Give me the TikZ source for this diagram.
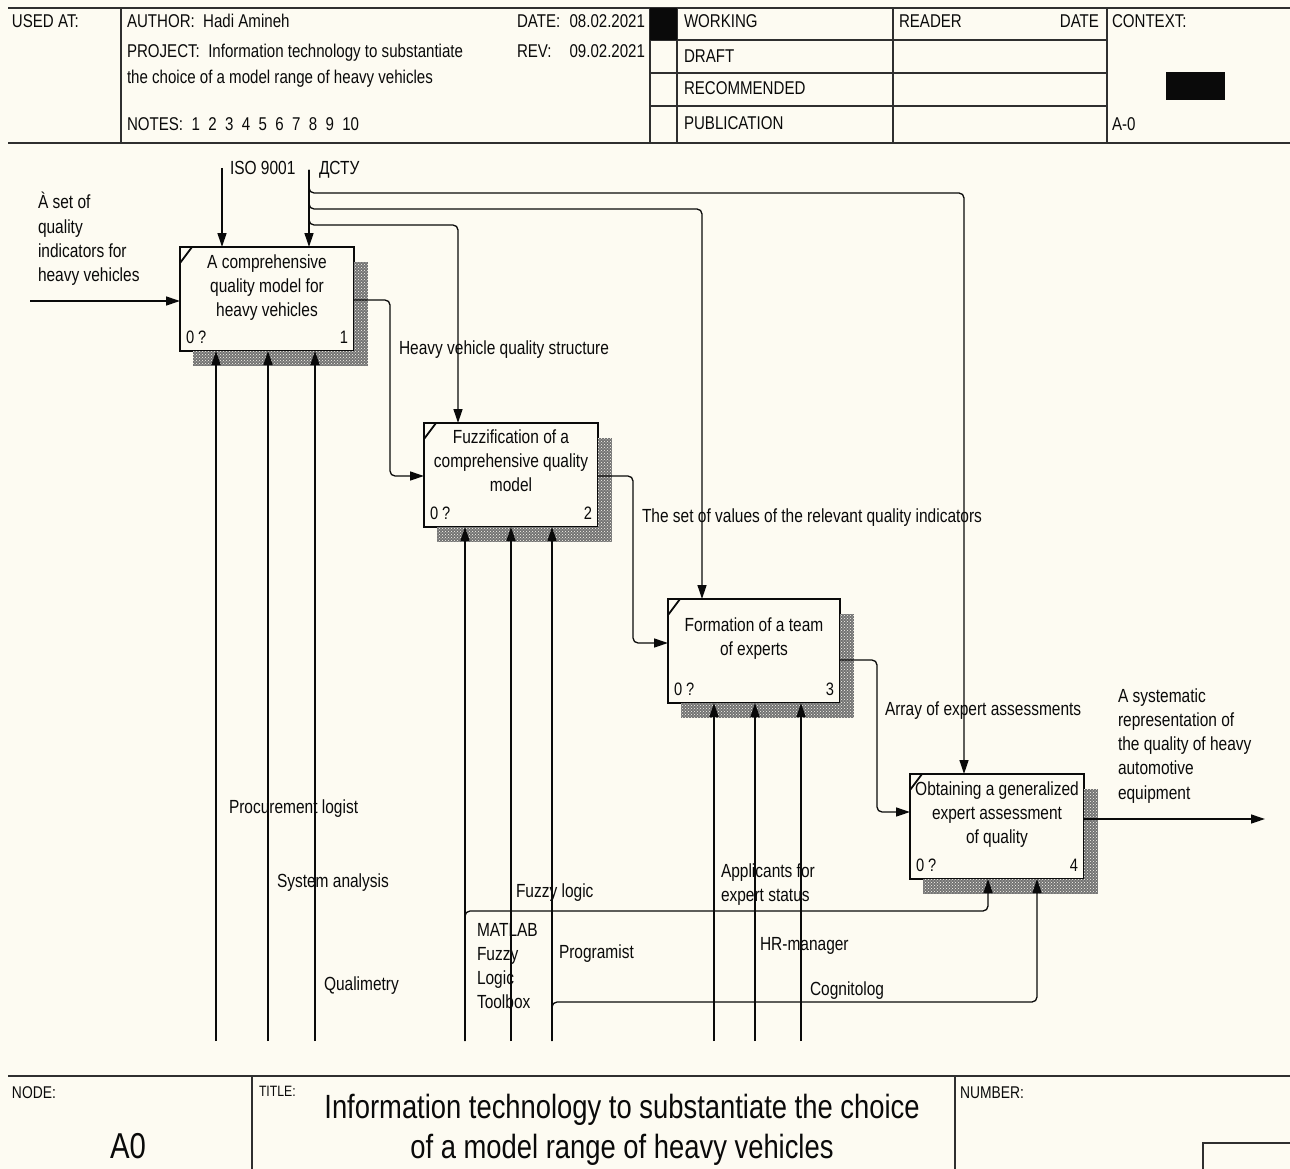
\documentclass[tikz,border=0pt]{standalone}
\usepackage{fontspec}
\setmainfont{Liberation Sans}[FakeStretch=0.815]
\usetikzlibrary{arrows.meta,patterns}
\definecolor{paper}{RGB}{253,251,242}
\definecolor{ink}{RGB}{10,10,10}
\tikzset{
  every node/.style={inner sep=0pt, outer sep=0pt, text=ink},
  lbl/.style={font=\fontsize{19}{24.3}\selectfont, anchor=base west},
  mlbl/.style={font=\fontsize{19}{24.3}\selectfont, anchor=north west, align=left},
  hdr/.style={font=\fontsize{18.5}{22}\selectfont, anchor=base west},
  hdrr/.style={font=\fontsize{18.5}{22}\selectfont, anchor=base east},
  small/.style={font=\fontsize{17}{20}\selectfont, anchor=base west},
  box/.style={draw=ink, line width=2.8pt, fill=paper},
  boxtxt/.style={font=\fontsize{19}{24}\selectfont, align=center, anchor=north},
  num/.style={font=\fontsize{18}{20}\selectfont},
  arr/.style={draw=ink, line width=1.3pt, -{Triangle[length=14pt,width=9pt]}},
  rulel/.style={draw=ink!85, line width=1.6pt},
  shadefill/.style={fill=black!55},
  shade/.style={pattern=crosshatch dots, pattern color=paper},
  corner/.style={draw=ink, line width=1.8pt},
}
\newcommand\boxshadow[1]{%
  \path[shadefill] ([yshift=-15pt]#1.north east) rectangle ([xshift=14pt,yshift=-15pt]#1.south east);
  \path[shadefill] ([xshift=13pt]#1.south west) rectangle ([yshift=-15pt]#1.south east);
  \path[shade] ([yshift=-15pt]#1.north east) rectangle ([xshift=14pt,yshift=-15pt]#1.south east);
  \path[shade] ([xshift=13pt]#1.south west) rectangle ([yshift=-15pt]#1.south east);}
\begin{document}
\begin{tikzpicture}[x=1pt,y=-1pt]
\useasboundingbox (0,0) rectangle (1290,1169);
\fill[paper] (0,0) rectangle (1290,1169);

% ---------------- header ----------------
\draw[rulel] (8,8) -- (1290,8);
\draw[rulel] (8,143) -- (1290,143);
\draw[rulel] (121,8) -- (121,143);
\draw[rulel] (650,8) -- (650,143);
\draw[rulel] (677,8) -- (677,143);
\draw[rulel] (893,8) -- (893,143);
\draw[rulel] (1107,8) -- (1107,143);
\draw[rulel] (650,40) -- (1107,40);
\draw[rulel] (650,73) -- (1107,73);
\draw[rulel] (650,106) -- (1107,106);
\fill[ink] (650,8) rectangle (677,40);
\fill[ink] (1166,72) rectangle (1225,100);

\node[hdr] (usedat) at (12,28) {USED AT:};
\node[hdr] (author) at (127,28) {AUTHOR:\ \ Hadi Amineh};
\node[hdr] (project) at (127,58) {PROJECT:\ \ Information technology to substantiate};
\node[hdr] (project2) at (127,84) {the choice of a model range of heavy vehicles};
\node[hdr] (notes) at (127,131) {NOTES:\ \ 1\ \ 2\ \ 3\ \ 4\ \ 5\ \ 6\ \ 7\ \ 8\ \ 9\ \ 10};
\node[hdr] (datel) at (517,28) {DATE:};
\node[hdrr] (datev) at (645,28) {08.02.2021};
\node[hdr] (revl) at (517,58) {REV:};
\node[hdrr] (revv) at (645,58) {09.02.2021};
\node[hdr] (working) at (684,28) {WORKING};
\node[hdr] (draft) at (684,63) {DRAFT};
\node[hdr] (recom) at (684,95) {RECOMMENDED};
\node[hdr] (publ) at (684,130) {PUBLICATION};
\node[hdr] (reader) at (899,28) {READER};
\node[hdrr] (rdate) at (1099,28) {DATE};
\node[hdr] (context) at (1112,28) {CONTEXT:};
\node[hdr] (ctxa) at (1112,131) {A-0};

% ---------------- footer ----------------
\draw[rulel] (8,1076) -- (1290,1076);
\draw[rulel] (252,1076) -- (252,1169);
\draw[rulel] (955,1076) -- (955,1169);
\draw[rulel] (1203,1169) -- (1203,1143) -- (1290,1143);
\node[small] (nodel) at (12,1098) {NODE:};
\node[font=\fontsize{15}{18}\selectfont, anchor=base west] (titlel) at (259,1096) {TITLE:};
\node[small] (numl) at (960,1098) {NUMBER:};
\node[font=\fontsize{36}{40}\selectfont, anchor=base] (a0) at (128,1158) {A0};
\node[font=\fontsize{33.6}{40}\selectfont, align=center, anchor=north] (title) at (622,1088)
  {\rule{0pt}{30pt}Information technology to substantiate the choice\\of a model range of heavy vehicles};

% ---------------- boxes ----------------
\node[box, minimum width=174pt, minimum height=104pt] (b1) at (267,299) {};
\node[box, minimum width=174pt, minimum height=104pt] (b2) at (511,475) {};
\node[box, minimum width=172pt, minimum height=104pt] (b3) at (754,651) {};
\node[box, minimum width=174pt, minimum height=105pt] (b4) at (997,826.5) {};
\boxshadow{b1}\boxshadow{b2}\boxshadow{b3}\boxshadow{b4}
\foreach \b in {b1,b2,b3,b4}{
  \draw[corner] ([yshift=-16pt]\b.north west) -- ([xshift=12pt]\b.north west);
}
\node[boxtxt] (b1t) at ([yshift=-3pt]b1.north) {\rule{0pt}{18pt}A comprehensive\\quality model for\\heavy vehicles};
\node[boxtxt] (b2t) at ([yshift=-2pt]b2.north) {\rule{0pt}{18pt}Fuzzification of a\\comprehensive quality\\model};
\node[boxtxt] (b3t) at ([yshift=-14pt]b3.north) {\rule{0pt}{18pt}Formation of a team\\of experts};
\node[boxtxt] (b4t) at ([yshift=-3pt]b4.north) {\rule{0pt}{18pt}Obtaining a generalized\\expert assessment\\of quality};
\foreach \b/\n in {b1/1,b2/2,b3/3,b4/4}{
  \node[num, anchor=base west] (\b z) at ([xshift=6pt,yshift=8pt]\b.south west) {0 ?};
  \node[num, anchor=base east] (\b n) at ([xshift=-6pt,yshift=8pt]\b.south east) {\n};
}

% ---------------- inputs / outputs ----------------
\coordinate (in1) at (30,301);
\draw[arr] (in1) -- (in1 -| b1.west);
\draw[arr, rounded corners=5pt] (b1.east |- 0,300) -| (390,476) -- (b2.west |- 0,476);
\draw[arr, rounded corners=5pt] (b2.east |- 0,476) -| (633,643) -- (b3.west |- 0,643);
\draw[arr, rounded corners=5pt] (b3.east |- 0,660) -| (877,812) -- (b4.west |- 0,812);
\coordinate (out4) at (1265,819);
\draw[arr] (b4.east |- out4) -- (out4);

% ---------------- controls ----------------
\coordinate (iso) at (222,168);
\draw[arr] (iso) -- (iso |- b1.north);
\coordinate (dstu) at (309,170);
\draw[arr] (dstu) -- (dstu |- b1.north);
\draw[arr, rounded corners=5pt] (dstu) |- (964,193) -- (964,0 |- b4.north);
\draw[arr, rounded corners=5pt] (dstu) |- (702,209) -- (702,0 |- b3.north);
\draw[arr, rounded corners=5pt] (dstu) |- (458,225) -- (458,0 |- b2.north);

% ---------------- mechanisms ----------------
\foreach \x/\i in {216/11,268/12,315/13}{
  \coordinate (m\i) at (\x,1041);
  \draw[arr] (m\i) -- (m\i |- b1.south);
}
\foreach \x/\i in {465/21,511/22,552/23}{
  \coordinate (m\i) at (\x,1041);
  \draw[arr] (m\i) -- (m\i |- b2.south);
}
\foreach \x/\i in {714/31,755/32,801/33}{
  \coordinate (m\i) at (\x,1041);
  \draw[arr] (m\i) -- (m\i |- b3.south);
}
\draw[arr, rounded corners=5pt] (m21) |- (988,911) -- (988,0 |- b4.south);
\draw[arr, rounded corners=5pt] (m23) |- (1037,1002) -- (1037,0 |- b4.south);

% ---------------- labels ----------------
\node[mlbl] (lin) at (38,191) {\rule{0pt}{18pt}À set of\\quality\\indicators for\\heavy vehicles};
\node[lbl] (liso) at (230,175) {ISO 9001};
\node[lbl] (ldstu) at (319,175) {ДСТУ};
\node[lbl] (lheavy) at (399,354) {Heavy vehicle quality structure};
\node[lbl] (lset) at (642,522) {The set of values of the relevant quality indicators};
\node[lbl] (larray) at (885,715) {Array of expert assessments};
\node[mlbl] (lout) at (1118,684) {\rule{0pt}{18pt}A systematic\\representation of\\the quality of heavy\\automotive\\equipment};
\node[lbl] (lproc) at (229,813) {Procurement logist};
\node[lbl] (lsys) at (277,887) {System analysis};
\node[lbl] (lqual) at (324,990) {Qualimetry};
\node[lbl] (lfuzzy) at (516,897) {Fuzzy logic};
\node[mlbl] (lmatlab) at (477,918) {\rule{0pt}{18pt}MATLAB\\Fuzzy\\Logic\\Toolbox};
\node[lbl] (lprog) at (559,958) {Programist};
\node[mlbl] (lappl) at (721,859) {\rule{0pt}{18pt}Applicants for\\expert status};
\node[lbl] (lhr) at (760,950) {HR-manager};
\node[lbl] (lcog) at (810,995) {Cognitolog};
\end{tikzpicture}
\end{document}
